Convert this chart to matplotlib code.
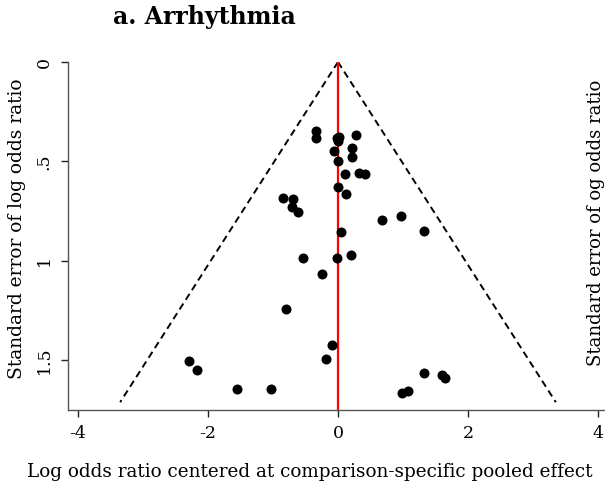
#%%imports
import matplotlib
matplotlib.use("Agg")
import matplotlib.pyplot as plt
import numpy as np

#%%data
#log odds ratio centered at comparison-specific pooled effect
log_or = [-0.34, -0.34, -0.01, 0.00, 0.02, 0.28, -0.06, 0.21, 0.21, 0.00,
          0.11, 0.33, 0.42, 0.00, 0.13, -0.85, -0.70, -0.71, -0.61, 0.68,
          0.97, 1.32, 0.05, -0.54, -0.01, 0.20, -0.25, -0.80, -0.09, -0.18,
          -2.30, -2.17, -1.56, -1.03, 1.33, 1.60, 1.65, 0.99, 1.07]
#standard error of log odds ratio
se_lor = [0.348, 0.382, 0.382, 0.395, 0.377, 0.365, 0.449, 0.432, 0.479, 0.499,
          0.563, 0.558, 0.563, 0.627, 0.663, 0.685, 0.690, 0.727, 0.752, 0.795,
          0.774, 0.851, 0.854, 0.986, 0.986, 0.971, 1.065, 1.243, 1.423, 1.491,
          1.501, 1.549, 1.645, 1.643, 1.564, 1.575, 1.588, 1.662, 1.651]
se_max = 1.71                                   #funnel drawn down to this se
xticks = [-4, -2, 0, 2, 4]
yticks = [0, 0.5, 1, 1.5]
ytick_labels = ["0", ".5", "1", "1.5"]

title = "a. Arrhythmia"
xlabel = "Log odds ratio centered at comparison-specific pooled effect"
ylabel = "Standard error of log odds ratio"
ylabel_right = "Standard error of og odds ratio"


#%%definitions
def funnel():
    """
        - comparison-adjusted funnel plot
    """
    fig = plt.figure(figsize=(6.05, 4.87), dpi=100)
    ax = fig.add_axes([68/605, 1-410/487, 540/605, 348/487])

    #pseudo 95% limits
    se = np.array([0, se_max])
    ax.plot(-1.96*se, se, color="black", ls=(0, (3.6, 2.3)), lw=1.4)
    ax.plot(1.96*se, se, color="black", ls=(0, (3.6, 2.3)), lw=1.4)

    ax.axvline(0, color="red", lw=1.6, zorder=2)
    ax.scatter(log_or, se_lor, s=52, color="black", zorder=3, linewidths=0)

    ax.set_xlim(-4.154, 4.154)
    ax.set_ylim(1.749, 0)
    ax.set_xticks(xticks)
    ax.set_xticklabels([str(t) for t in xticks])
    ax.set_yticks(yticks)
    ax.set_yticklabels(ytick_labels, rotation=90, va="center")

    for s in ["top", "right"]:
        ax.spines[s].set_visible(False)
    for s in ["left", "bottom"]:
        ax.spines[s].set_color("#555555")
        ax.spines[s].set_linewidth(1.0)
    ax.tick_params(direction="out", length=5, width=1.0, color="#222222",
                   labelsize=12.5, pad=6)
    for lab in ax.get_xticklabels() + ax.get_yticklabels():
        lab.set_family("DejaVu Serif")

    fig.text(204/605, 1-17/487, title, family="DejaVu Serif", weight="bold",
             fontsize=17, ha="center", va="center")
    fig.text(310/605, 1-472/487, xlabel, family="DejaVu Serif",
             fontsize=13.2, ha="center", va="center")
    fig.text(17/605, 1-229/487, ylabel, family="DejaVu Serif",
             fontsize=13.4, rotation=90, ha="center", va="center")
    fig.text(596/605, 1-223/487, ylabel_right, family="DejaVu Serif",
             fontsize=13.0, rotation=90, ha="center", va="center")

    fig.savefig("out.png", dpi=100)
    return

#%%main
def main():
    funnel()

if __name__ == "__main__":
    main()
